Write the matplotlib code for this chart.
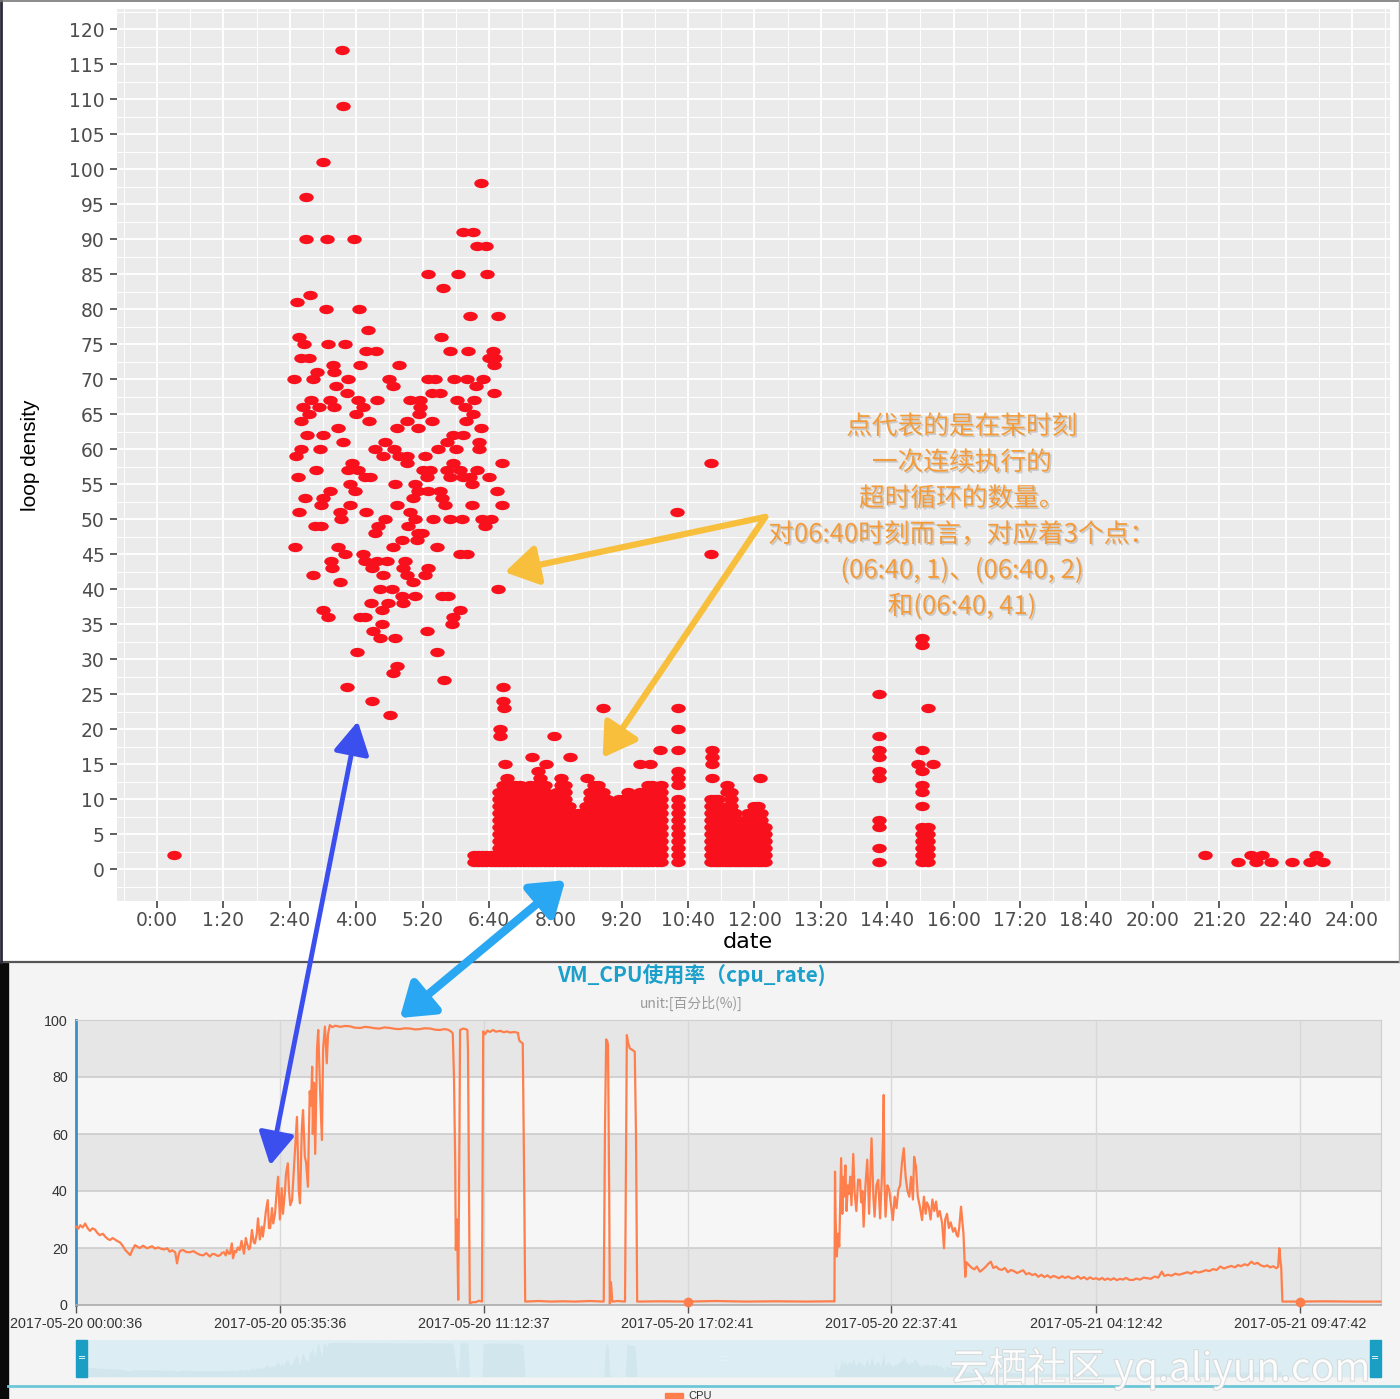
import numpy as np
import matplotlib
matplotlib.use('Agg')
import matplotlib.pyplot as plt
from matplotlib.path import Path
from matplotlib.transforms import Affine2D
from matplotlib.patches import Rectangle, ConnectionPatch
from matplotlib.lines import Line2D
import matplotlib.patheffects as pe

CJK = ['Noto Sans CJK SC', 'DejaVu Sans']

# ---------------- data: top scatter (minutes since 0:00, loop density) ----------------
upper_rows = {
    117: [223], 109: [224], 101: [200], 98: [390], 96: [180],
    91: [369, 381], 90: [180, 205, 237], 89: [386, 396],
    85: [327, 363, 398], 83: [345], 82: [184], 81: [169],
    80: [204, 243], 79: [377, 411], 77: [254], 76: [171, 342],
    75: [177, 206, 227], 74: [252, 264, 353, 375, 405], 73: [174, 183, 400, 407],
    72: [212, 245, 292, 406], 71: [193, 213],
    70: [165, 188, 230, 280, 327, 335, 358, 374, 393],
    69: [216, 284, 384], 68: [229, 331, 341, 406],
    67: [186, 208, 242, 265, 305, 317, 362, 382],
    66: [176, 195, 213, 248, 317, 371], 65: [183, 240, 316, 381],
    64: [174, 255, 301, 331, 372], 63: [218, 289, 314, 390],
    62: [181, 200, 357, 369], 61: [224, 275, 350, 388],
    60: [174, 196, 263, 285, 339, 360, 388], 59: [168, 272, 292, 301, 323],
    58: [235, 301, 357, 416, 668], 57: [192, 230, 242, 320, 329, 350, 365, 386],
    56: [170, 251, 257, 325, 353, 369, 377, 400], 55: [233, 287, 311, 380],
    54: [208, 239, 315, 327, 341, 410], 53: [178, 200, 309, 343],
    52: [198, 233, 289, 347, 380, 416], 51: [171, 221, 252, 305, 627],
    50: [222, 275, 311, 333, 353, 367, 392, 403], 49: [190, 198, 266, 302, 395],
    48: [263, 314, 319], 47: [295, 313], 46: [166, 218, 284, 337],
    45: [227, 248, 365, 374, 668], 44: [210, 251, 265, 277, 299],
    43: [211, 259, 296, 327], 42: [188, 272, 301, 323], 41: [221, 309],
    40: [269, 283, 411], 39: [295, 311, 343, 351], 38: [258, 278, 296],
    37: [200, 271, 365], 36: [206, 245, 251, 357], 35: [271, 355],
    34: [260, 325], 33: [269, 287, 922], 32: [922], 31: [241, 337], 29: [289], 28: [284],
    27: [346], 26: [229, 417], 25: [870], 24: [259, 417], 23: [418, 537, 628, 929], 22: [281],
    20: [413, 628], 19: [413, 478, 870], 17: [606, 628, 669, 870, 922],
    16: [452, 498, 669, 870], 15: [419, 469, 582, 594, 669, 917, 935],
    14: [459, 628, 870, 922], 13: [518, 628, 669, 727, 870], 12: [449, 628, 687, 922],
    11: [687, 922], 9: [922],
    7: [870], 6: [870], 3: [870], 2: [20, 1263, 1318, 1332, 1397],
    1: [870, 1303, 1324, 1342, 1368, 1390, 1405],
}

# dense low region: column times (minutes) and top value of the stacked run 1..top
dense_t = [382, 387, 392, 397, 402, 407,
           412, 417, 422, 427, 432, 437, 442, 447, 452, 457,
           462, 467, 472, 477, 482, 487, 492, 497, 502, 507,
           512, 517, 522, 527, 532, 537, 542, 547, 552, 557,
           562, 567, 572, 577, 582, 587, 592, 597, 602, 607,
           628,
           668, 672, 676, 680, 684, 688, 692, 696, 700, 704, 708, 712, 716,
           720, 724, 728, 733,
           922, 929]
dense_top = [2, 2, 2, 2, 2, 2,
             11, 12, 13, 12, 12, 12, 11, 10, 10, 12,
             13, 12, 10, 10, 11, 13, 12, 9, 8, 8,
             8, 9, 11, 12, 12, 11, 10, 9, 9, 10,
             10, 11, 10, 10, 11, 11, 12, 12, 11, 12,
             10,
             10, 10, 10, 8, 7, 9, 11, 8, 7, 6, 7, 8, 7,
             9, 9, 8, 6,
             6, 6]

x_ticks_min = [0, 80, 160, 240, 320, 400, 480, 560, 640, 720, 800, 880, 960,
               1040, 1120, 1200, 1280, 1360, 1440]
y_ticks_top = list(range(0, 125, 5))

# ---------------- data: CPU line (minutes since 2017-05-20 00:00:36, %) ----------------
cpu_t = [0, 4, 7, 11, 15, 19, 23, 27, 31, 35, 39, 44, 48, 52, 56, 60, 64, 68, 72, 76,
         81, 85, 89, 93, 97, 101, 105, 110, 117, 121, 125, 130, 135, 140, 145, 150,
         154, 158, 163, 166, 169, 171, 176, 181, 187, 193, 199, 204, 209, 214, 220,
         224, 228, 233, 237, 240, 243, 246, 248, 251, 253, 256, 258, 261, 263, 266,
         269, 272, 276, 279, 281, 284, 286, 289, 292, 294, 297, 299, 302, 305, 307,
         310, 312, 315, 317, 319, 322, 324, 327, 329, 332, 335, 338, 340, 343, 345,
         348, 350, 352, 355, 358, 360, 363, 366, 368, 371, 373, 376, 378, 381, 384,
         386, 388, 389, 391, 393, 396, 398, 401, 404, 406, 409, 412, 414, 417, 421,
         426, 434, 442, 450, 458, 467, 475, 483, 491, 499, 507, 516, 524, 532, 540,
         549, 557, 565, 573, 582, 590, 598, 605, 611, 616, 619, 621, 623, 624, 626,
         628, 630, 631, 636, 640, 643, 644, 645, 647, 652, 657, 662, 667, 669, 672,
         676, 680, 685, 690, 697, 703, 708, 713, 720, 726, 728, 730, 734, 736, 738,
         760, 780, 800, 820, 845, 867, 869, 871, 873, 874, 876, 877, 879, 881, 890,
         902, 904, 905, 907, 910, 914, 918, 920, 922, 960, 1006, 1050, 1100, 1150,
         1200, 1244, 1246, 1247, 1248, 1250, 1252, 1254, 1256, 1257, 1259, 1261,
         1262, 1264, 1266, 1268, 1270, 1272, 1274, 1277, 1279, 1282, 1285, 1288,
         1290, 1292, 1294, 1297, 1300, 1303, 1305, 1307, 1310, 1312, 1315, 1318,
         1321, 1324, 1326, 1327, 1328, 1330, 1333, 1336, 1339, 1342, 1345, 1348,
         1351, 1354, 1357, 1360, 1363, 1366, 1369, 1372, 1375, 1377, 1380, 1383,
         1386, 1390, 1393, 1396, 1398, 1401, 1404, 1407, 1410, 1413, 1416, 1419,
         1423, 1426, 1428, 1431, 1434, 1437, 1441, 1444, 1447, 1449, 1451, 1454,
         1456, 1458, 1461, 1463, 1467, 1472, 1476, 1480, 1485, 1490, 1495, 1499,
         1503, 1507, 1512, 1516, 1521, 1526, 1531, 1536, 1541, 1546, 1551, 1556,
         1561, 1566, 1571, 1576, 1581, 1586, 1591, 1596, 1601, 1606, 1610, 1615,
         1620, 1625, 1630, 1636, 1641, 1646, 1651, 1656, 1661, 1666, 1671, 1676,
         1681, 1686, 1690, 1695, 1700, 1705, 1710, 1715, 1720, 1725, 1731, 1737,
         1742, 1748, 1754, 1760, 1766, 1772, 1778, 1784, 1788, 1794, 1800, 1806,
         1812, 1820, 1826, 1832, 1838, 1844, 1850, 1856, 1862, 1868, 1874, 1880,
         1886, 1892, 1898, 1904, 1909, 1914, 1920, 1925, 1931, 1936, 1941, 1946,
         1952, 1957, 1962, 1967, 1972, 1975, 1977, 1979, 1980, 1982, 2011, 2050,
         2100, 2143]
cpu_v = [27.5, 26.8, 28.0, 27.2, 28.6, 27.0, 26.0, 26.9, 26.5, 25.3, 24.5, 25.0, 24.0,
         23.2, 22.8, 23.5, 23.0, 22.4, 22.0, 21.0, 19.3, 18.4, 17.5, 19.5, 21.0, 20.4,
         20.0, 20.8, 19.9, 20.3, 20.6, 19.8, 20.2, 19.7, 19.5, 19.9, 18.7, 19.2, 18.5,
         14.6, 18.0, 19.0, 19.3, 18.6, 18.5, 18.9, 18.1, 17.6, 17.4, 18.2, 17.0, 17.9,
         17.8, 17.2, 17.5, 18.3, 18.5, 17.4, 19.3, 18.0, 18.0, 21.6, 16.4, 19.0, 18.5,
         20.2, 19.3, 22.5, 18.0, 23.5, 21.6, 19.5, 20.0, 26.3, 22.0, 21.6, 25.0, 30.4,
         23.0, 27.5, 24.0, 29.0, 33.0, 36.8, 27.0, 27.0, 34.0, 28.6, 32.0, 38.0, 45.0,
         30.0, 41.0, 32.0, 39.0, 46.0, 49.7, 40.0, 35.0, 36.8, 48.0, 55.0, 66.0, 40.0,
         35.7, 62.0, 68.4, 52.0, 50.0, 41.5, 75.0, 70.0, 83.6, 60.0, 78.0, 53.0, 90.0,
         96.5, 75.0, 57.9, 90.0, 97.7, 84.8, 95.0, 98.2, 97.5, 98.0, 97.6, 97.9, 97.8,
         97.3, 97.2, 97.6, 97.4, 97.1, 97.0, 97.4, 97.2, 96.9, 96.8, 97.1, 97.0, 96.7,
         96.8, 97.1, 97.0, 96.6, 96.5, 96.8, 96.6, 96.0, 95.3, 80.0, 49.7, 19.3, 30.0,
         1.8, 60.0, 96.5, 97.0, 96.8, 96.5, 89.5, 60.0, 0.6, 1.0, 1.0, 1.5, 1.2, 96.0,
         95.0, 96.3, 95.8, 96.5, 95.9, 96.2, 95.7, 96.0, 95.6, 95.8, 95.5, 93.0, 92.4,
         91.8, 50.0, 1.2, 1.4, 1.2, 1.3, 1.2, 1.4, 1.2, 60.0, 93.2, 92.5, 91.2, 40.0,
         0.5, 8.0, 1.2, 1.4, 1.2, 60.0, 94.7, 92.0, 90.0, 89.5, 88.9, 60.0, 1.2, 1.3,
         1.2, 1.4, 1.2, 1.3, 1.2, 1.3, 1.2, 46.8, 30.0, 17.0, 25.0, 20.5, 40.0, 51.5,
         32.0, 45.0, 38.0, 49.0, 33.0, 42.0, 39.0, 45.0, 35.0, 53.0, 40.0, 33.0, 44.0,
         43.9, 36.0, 40.0, 27.5, 42.0, 51.0, 32.0, 45.0, 58.5, 38.0, 31.0, 42.0, 43.9,
         30.4, 45.0, 60.0, 73.7, 45.0, 31.0, 42.0, 40.4, 35.0, 29.8, 38.0, 34.0, 40.4,
         42.0, 50.0, 55.0, 45.0, 40.0, 38.0, 45.0, 37.0, 52.0, 48.5, 38.0, 35.0, 29.8,
         38.0, 32.0, 36.0, 34.5, 30.0, 37.0, 33.0, 36.3, 31.0, 33.0, 28.7, 19.9, 30.0,
         32.0, 27.0, 29.0, 25.7, 27.0, 24.5, 24.0, 27.0, 34.5, 30.0, 25.1, 9.9, 15.0,
         14.0, 13.0, 12.5, 13.5, 11.7, 12.5, 13.5, 14.5, 15.2, 13.0, 13.5, 12.6, 12.3,
         13.0, 11.5, 12.3, 11.9, 11.2, 11.7, 12.2, 10.8, 11.2, 10.5, 10.9, 9.9, 10.6,
         9.8, 10.4, 9.6, 10.2, 9.9, 9.4, 10.1, 9.5, 10.0, 9.3, 9.4, 10.1, 9.2, 9.8,
         9.0, 9.7, 9.1, 9.4, 8.9, 9.5, 8.8, 9.3, 8.8, 9.4, 8.7, 9.2, 8.9, 9.5, 8.8,
         8.8, 9.3, 8.9, 9.6, 9.4, 9.2, 10.0, 9.6, 11.7, 10.2, 10.6, 10.3, 11.0, 10.6,
         11.1, 11.5, 11.0, 11.8, 11.4, 11.7, 12.2, 11.9, 12.6, 12.3, 13.5, 12.8, 13.3,
         13.7, 13.2, 14.0, 13.6, 14.3, 13.9, 15.2, 14.4, 14.8, 14.0, 13.5, 13.9, 13.2,
         13.6, 12.9, 13.4, 19.9, 15.0, 13.5, 1.2, 1.2, 1.3, 1.2, 1.2]
cpu_highlight_t = [1006, 2011]
cpu_tick_pos = [0, 335, 670, 1005, 1339, 1676, 2011]
cpu_tick_labels = ['2017-05-20 00:00:36', '2017-05-20 05:35:36', '2017-05-20 11:12:37',
                   '2017-05-20 17:02:41', '2017-05-20 22:37:41', '2017-05-21 04:12:42',
                   '2017-05-21 09:47:42']

note_lines = ['点代表的是在某时刻', '一次连续执行的', '超时循环的数量。',
              '对06:40时刻而言，对应着3个点：', '(06:40, 1)、(06:40, 2)', '和(06:40, 41)']

# ---------------- figure ----------------
W, H = 1400, 1399
def fx(p): return p / W
def fy(p): return 1 - p / H

fig = plt.figure(figsize=(14, 13.99), dpi=100)
fig.patch.set_facecolor('white')

# bottom panel background and frame pieces
fig.add_artist(Rectangle((0, 0), 1, fy(963), transform=fig.transFigure,
                         color='#F4F4F4', zorder=-5))
fig.add_artist(Rectangle((0, 0), fx(8), fy(963), transform=fig.transFigure,
                         color='#0A0A0A', zorder=-4))
fig.add_artist(Line2D([0, 1], [fy(962), fy(962)], transform=fig.transFigure,
                      color='#555555', lw=1.6, zorder=-3))
fig.add_artist(Line2D([fx(1.2), fx(1.2)], [fy(962), 1], transform=fig.transFigure,
                      color='#2A2A3A', lw=2.0, zorder=-3))
fig.add_artist(Line2D([0, 1], [fy(0.6), fy(0.6)], transform=fig.transFigure,
                      color='#777777', lw=1.2, zorder=-3))
fig.add_artist(Line2D([fx(1398.5), fx(1398.5)], [fy(962), 1], transform=fig.transFigure,
                      color='#AAAAAA', lw=1.0, zorder=-3))

# ---------------- top scatter ----------------
ax1 = fig.add_axes([fx(117), fy(901), (1390 - 117) / W, (901 - 9) / H])
ax1.set_facecolor('#EBEBEB')
for s in ax1.spines.values():
    s.set_visible(False)
ax1.set_xlim(-48.2, 1485.8)
ax1.set_ylim(-4.57, 122.86)
ax1.set_xticks(x_ticks_min)
ax1.set_xticklabels([f"{m // 60}:{m % 60:02d}" for m in x_ticks_min])
ax1.set_xticks([m + 40 for m in [-80] + x_ticks_min], minor=True)
ax1.set_yticks(y_ticks_top)
ax1.set_yticklabels([str(v) for v in y_ticks_top])
ax1.set_yticks([v + 2.5 for v in [-5] + y_ticks_top], minor=True)
ax1.grid(which='major', color='white', lw=1.3)
ax1.grid(which='minor', color='white', lw=0.7)
ax1.set_axisbelow(True)
ax1.tick_params(which='major', length=5, width=1.1, color='#333333',
                labelcolor='#4D4D4D', labelsize=13.5, pad=4)
ax1.tick_params(axis='x', which='major', pad=2.5)
ax1.tick_params(which='minor', length=0)
for lab in ax1.get_xticklabels() + ax1.get_yticklabels():
    lab.set_family('DejaVu Sans')

ell = Path.unit_circle().transformed(Affine2D().scale(1.55, 1.0))
pts_t, pts_v = [], []
for val, times in upper_rows.items():
    for t in times:
        pts_t.append(t)
        pts_v.append(val)
for t, top in zip(dense_t, dense_top):
    for v in range(1, top + 1):
        pts_t.append(t)
        pts_v.append(v)
ax1.plot(pts_t, pts_v, ls='none', marker=ell, ms=10.4, color='#F8101C',
         markeredgewidth=0, zorder=3)

fig.text(fx(30), fy(455), 'loop density', rotation=90, ha='center', va='center',
         fontsize=15, family='Liberation Sans', color='black')
fig.text(fx(748), fy(942), 'date', ha='center', va='center', fontsize=16,
         family='DejaVu Sans', color='black')

for i, line in enumerate(note_lines):
    fig.text(fx(962), fy(427 + 36 * i), line, ha='center', va='center',
             fontsize=18.5, family=CJK, color='#F39B3A', zorder=6,
             path_effects=[pe.withSimplePatchShadow(offset=(1.2, -1.2),
                                                     shadow_rgbFace='#8A8A8A', alpha=0.35)])

# yellow arrows from the note to the points
for tgt in [(419, 42.4), (537, 15.9)]:
    ax1.annotate('', xy=tgt, xytext=(733, 50.3), zorder=7,
                 arrowprops=dict(arrowstyle='-|>,head_length=0.9,head_width=0.55',
                                 color='#F8BF3D', lw=4.5, mutation_scale=22,
                                 shrinkA=0, shrinkB=0))

# ---------------- bottom CPU line ----------------
ax2 = fig.add_axes([fx(76), fy(1305), 1305 / W, 285 / H])
ax2.set_facecolor('#F6F6F6')
ax2.set_xlim(0, 2144)
ax2.set_ylim(0, 100)
for lo in [0, 40, 80]:
    ax2.axhspan(lo, lo + 20, color='#E6E6E6', zorder=0, lw=0)
for yv in [20, 40, 60, 80]:
    ax2.axhline(yv, color='#CCCCCC', lw=1.2, zorder=1)
for xv in cpu_tick_pos[1:]:
    ax2.axvline(xv, color='#D8D8D8', lw=1.0, zorder=1)
ax2.spines['left'].set_color('#3C8FC4')
ax2.spines['left'].set_linewidth(2.0)
ax2.spines['bottom'].set_color('#AAAAAA')
ax2.spines['bottom'].set_linewidth(1.2)
ax2.spines['top'].set_color('#CFCFCF')
ax2.spines['right'].set_color('#CFCFCF')
ax2.set_xticks(cpu_tick_pos)
ax2.set_xticklabels(cpu_tick_labels)
ax2.set_yticks([0, 20, 40, 60, 80, 100])
ax2.tick_params(axis='x', length=6, width=1.0, color='#555555', labelsize=10.3,
                labelcolor='#333333', pad=3)
ax2.tick_params(axis='y', length=0, labelsize=10.3, labelcolor='#333333', pad=6)
for lab in ax2.get_xticklabels() + ax2.get_yticklabels():
    lab.set_family('Liberation Sans')
ax2.plot(cpu_t, cpu_v, color='#FF7F4C', lw=1.6, zorder=3, clip_on=False)
hi_v = [cpu_v[cpu_t.index(t)] for t in cpu_highlight_t]
ax2.plot(cpu_highlight_t, hi_v, ls='none', marker='o', ms=6, color='#FF7F4C',
         zorder=4, clip_on=False)

fig.text(fx(691), fy(976), 'VM_CPU使用率（cpu_rate)', ha='center', va='center',
         fontsize=15, fontweight='bold', family=CJK, color='#1AA0CB')
fig.text(fx(691), fy(1003), 'unit:[百分比(%)]', ha='center', va='center',
         fontsize=10, family=CJK, color='#9A9A9A')

# data-zoom slider
axs = fig.add_axes([fx(76), fy(1377), 1305 / W, 37 / H])
axs.set_facecolor('#DCEEF3')
axs.set_xlim(0, 2144)
axs.set_ylim(0, 105)
axs.fill_between(cpu_t, cpu_v, color='#BFD9E2', alpha=0.35, lw=0)
for s in axs.spines.values():
    s.set_visible(False)
axs.set_xticks([])
axs.set_yticks([])
for x0 in [0.0, 0.9915]:
    axs.add_patch(Rectangle((x0, 0), 0.0085, 1, transform=axs.transAxes,
                            color='#1A9EC3', clip_on=False, zorder=5))
    axs.text(x0 + 0.00425, 0.5, '=', transform=axs.transAxes, ha='center', va='center',
             color='white', fontsize=7, zorder=6)
axs.text(0.497, 0.5, ':::', transform=axs.transAxes, ha='center', va='center',
         color='#FFFFFF', fontsize=6)

fig.add_artist(Line2D([fx(8), 1], [fy(1386), fy(1386)], transform=fig.transFigure,
                      color='#6CC8D8', lw=2.0))
fig.add_artist(Rectangle((fx(665), 0), 18 / W, 6 / H, transform=fig.transFigure,
                         color='#FF7F4C'))
fig.text(fx(688), fy(1391), 'CPU', ha='left', va='top', fontsize=8,
         family='Liberation Sans', color='#333333')

# arrows linking the two panels
con1 = ConnectionPatch(xyA=(242, 21.1), coordsA=ax1.transData,
                       xyB=(319, 49), coordsB=ax2.transData,
                       arrowstyle='<|-|>,head_length=0.9,head_width=0.5',
                       color='#3B4FEF', lw=3.5, mutation_scale=22, zorder=20,
                       shrinkA=0, shrinkB=0)
fig.add_artist(con1)
con2 = ConnectionPatch(xyA=(492, -1.6), coordsA=ax1.transData,
                       xyB=(532, 100.7), coordsB=ax2.transData,
                       arrowstyle='<|-|>,head_length=0.8,head_width=0.55',
                       color='#2AA7F2', lw=6, mutation_scale=24, zorder=20,
                       shrinkA=0, shrinkB=0)
fig.add_artist(con2)

# watermark
fig.text(fx(1160), fy(1369), '云栖社区 yq.aliyun.com', ha='center', va='center',
         fontsize=28, family=CJK, color='white', alpha=0.8, zorder=30,
         path_effects=[pe.withStroke(linewidth=1.2, foreground='#D0D0D0')])

fig.savefig('out.png', dpi=100)
